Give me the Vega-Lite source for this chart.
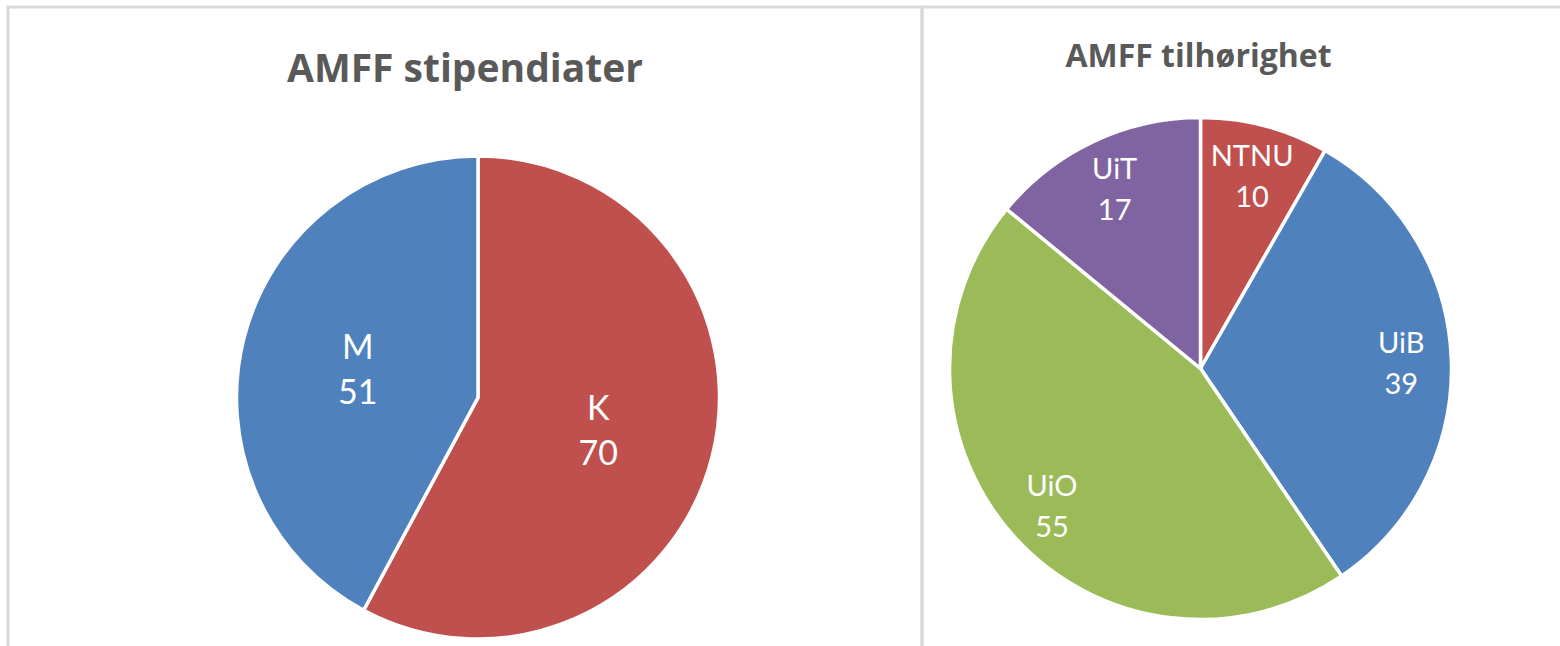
{
  "$schema": "https://vega.github.io/schema/vega-lite/v6.json",
  "padding": {"left": 6, "top": 5, "right": 0, "bottom": 0},
  "background": "white",
  "spacing": 0,
  "bounds": "flush",
  "config": {
    "view": {"stroke": "#d9d9d9", "strokeWidth": 3},
    "title": {"font": "Open Sans", "fontWeight": "bold", "color": "#595959", "frame": "group", "anchor": "middle"}
  },
  "datasets": {
    "kjonn": [
      {"kjonn": "K", "antall": 70},
      {"kjonn": "M", "antall": 51}
    ],
    "sted": [
      {"sted": "NTNU", "antall": 10},
      {"sted": "UiB", "antall": 39},
      {"sted": "UiO", "antall": 55},
      {"sted": "UiT", "antall": 17}
    ]
  },
  "hconcat": [
    {
      "width": 914,
      "height": 660,
      "view": {"stroke": "#d9d9d9", "strokeWidth": 3},
      "data": {"name": "kjonn"},
      "title": {"text": "AMFF stipendiater", "fontSize": 39, "offset": -83},
      "layer": [
        {
          "mark": {"type": "arc", "x": 470, "y": 390.5, "outerRadius": 241.5, "stroke": "white", "strokeWidth": 3.5},
          "encoding": {
            "theta": {"field": "antall", "type": "quantitative", "stack": true},
            "order": {"field": "kjonn", "type": "nominal", "sort": "ascending"},
            "color": {"field": "kjonn", "type": "nominal", "scale": {"domain": ["K", "M"], "range": ["#C0504D", "#4F81BD"]}, "legend": null}
          }
        },
        {
          "mark": {"type": "text", "x": 470, "y": 390.5, "radius": 124, "dy": -18, "font": "Lato", "fontSize": 34, "fill": "white", "align": "center", "baseline": "middle"},
          "encoding": {
            "theta": {"field": "antall", "type": "quantitative", "stack": true},
            "order": {"field": "kjonn", "type": "nominal", "sort": "ascending"},
            "detail": {"field": "kjonn", "type": "nominal"},
            "text": {"field": "kjonn", "type": "nominal"}
          }
        },
        {
          "mark": {"type": "text", "x": 470, "y": 390.5, "radius": 124, "dy": 27, "font": "Lato", "fontSize": 34, "fill": "white", "align": "center", "baseline": "middle"},
          "encoding": {
            "theta": {"field": "antall", "type": "quantitative", "stack": true},
            "order": {"field": "kjonn", "type": "nominal", "sort": "ascending"},
            "detail": {"field": "kjonn", "type": "nominal"},
            "text": {"field": "antall", "type": "quantitative"}
          }
        }
      ]
    },
    {
      "width": 660,
      "height": 660,
      "view": {"stroke": "#d9d9d9", "strokeWidth": 3},
      "data": {"name": "sted"},
      "title": {"text": "AMFF tilhørighet", "fontSize": 32, "offset": -67, "dx": -53.5},
      "layer": [
        {
          "mark": {"type": "arc", "x": 278.5, "y": 361.5, "outerRadius": 251, "stroke": "white", "strokeWidth": 3.5},
          "encoding": {
            "theta": {"field": "antall", "type": "quantitative", "stack": true},
            "order": {"field": "sted", "type": "nominal", "sort": "ascending"},
            "color": {"field": "sted", "type": "nominal", "scale": {"domain": ["NTNU", "UiB", "UiO", "UiT"], "range": ["#C0504D", "#4F81BD", "#9BBB59", "#8064A2"]}, "legend": null}
          }
        },
        {
          "mark": {"type": "text", "x": 278.5, "y": 361.5, "radius": 201, "dy": -17, "font": "Lato", "fontSize": 29, "fill": "white", "align": "center", "baseline": "middle"},
          "encoding": {
            "theta": {"field": "antall", "type": "quantitative", "stack": true},
            "order": {"field": "sted", "type": "nominal", "sort": "ascending"},
            "detail": {"field": "sted", "type": "nominal"},
            "text": {"field": "sted", "type": "nominal"}
          }
        },
        {
          "mark": {"type": "text", "x": 278.5, "y": 361.5, "radius": 201, "dy": 24, "font": "Lato", "fontSize": 29, "fill": "white", "align": "center", "baseline": "middle"},
          "encoding": {
            "theta": {"field": "antall", "type": "quantitative", "stack": true},
            "order": {"field": "sted", "type": "nominal", "sort": "ascending"},
            "detail": {"field": "sted", "type": "nominal"},
            "text": {"field": "antall", "type": "quantitative"}
          }
        }
      ]
    }
  ],
  "resolve": {"scale": {"color": "independent", "theta": "independent"}}
}
